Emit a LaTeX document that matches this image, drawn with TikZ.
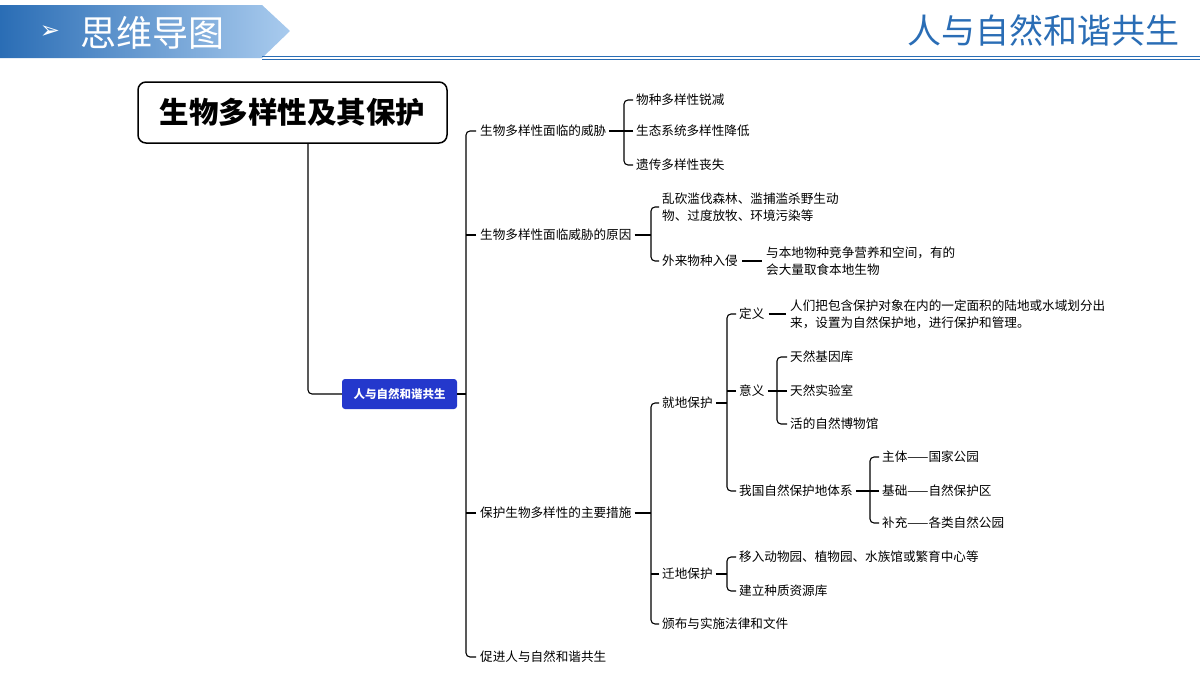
\documentclass[tikz,border=0pt]{standalone}
\usepackage{fontspec}
\setmainfont{Noto Sans CJK SC}
\newfontfamily\dejavu{DejaVu Sans}
\usetikzlibrary{shadings}
\definecolor{hdblue}{HTML}{2A6DB5}
\definecolor{hdlight}{HTML}{A9CBEE}
\definecolor{rootblue}{HTML}{2438CC}
\begin{document}
\begin{tikzpicture}[x=1pt,y=-1pt,
  t/.style={anchor=west,inner sep=0pt,font=\fontsize{12.6}{17}\selectfont,align=left},
  br/.style={line width=1.1pt,rounded corners=4pt},
  ln/.style={line width=1.1pt}]
\useasboundingbox (0,0) rectangle (1200,675);
% header
\shade[left color=hdblue, right color=hdlight] (0,5) -- (262,5) -- (290,31) -- (262,58) -- (0,58) -- cycle;
\draw[color=hdblue,line width=1pt] (262,56) -- (1200,56);
\draw[color=hdblue,line width=0.5pt] (262,59) -- (1200,59);
\node[text=white,font=\dejavu\fontsize{24}{24}\selectfont] (hdarrow) at (50,32) {➢};
\node[text=white,anchor=west,inner sep=0pt,font=\fontsize{36}{38}\selectfont] (hd) at (80,33) {思维导图};
\node[text=hdblue,anchor=east,inner sep=0pt,font=\fontsize{34}{36}\selectfont] (hr) at (1180,30) {人与自然和谐共生};
% title
\node[draw,line width=1.5pt,rounded corners=8pt,minimum width=309,minimum height=61,font=\fontsize{29.5}{31}\selectfont\bfseries] (title) at (292.5,112.5) {生物多样性及其保护};
\node[fill=rootblue,text=white,rounded corners=3pt,minimum width=115,minimum height=30,font=\fontsize{11.5}{12}\selectfont\bfseries] (root) at (399.5,394) {人与自然和谐共生};
\draw[br] (308,143.5) coordinate (ta) |- (root.west);
% level 1
\node[t] (a) at (480,131) {生物多样性面临的威胁};
\node[t] (b) at (480,235) {生物多样性面临威胁的原因};
\node[t] (c) at (480,513) {保护生物多样性的主要措施};
\node[t] (d) at (480,657) {促进人与自然和谐共生};
\draw[ln] (root.east) -- (466,394);
\draw[br] ([xshift=-4]a.west) -- (466,131) |- ([xshift=-4]d.west);
\draw[ln] ([xshift=-4]b.west) -- (466,235);
\draw[ln] ([xshift=-4]c.west) -- (466,513);
% a
\node[t] (a1) at (636,100) {物种多样性锐减};
\node[t] (a2) at (636,131) {生态系统多样性降低};
\node[t] (a3) at (636,165) {遗传多样性丧失};
\draw[ln] ([xshift=3]a.east) -- (624,131);
\draw[br] ([xshift=-3]a1.west) -- (624,100) |- ([xshift=-3]a3.west);
\draw[ln] ([xshift=-3]a2.west) -- (624,131);
% b
\node[t] (b1) at (662,207) {乱砍滥伐森林、滥捕滥杀野生动\\物、过度放牧、环境污染等};
\node[t] (b2) at (662,261) {外来物种入侵};
\node[t] (b2a) at (766,261) {与本地物种竞争营养和空间，有的\\会大量取食本地生物};
\draw[ln] ([xshift=3]b.east) -- (651,235);
\draw[br] ([xshift=-3]b1.west) -- (651,207) |- ([xshift=-3]b2.west);
\draw[ln] ([xshift=4]b2.east) -- ([xshift=-4]b2a.west);
% c
\node[t] (c1) at (662,403) {就地保护};
\node[t] (c2) at (662,574) {迁地保护};
\node[t] (c3) at (662,624) {颁布与实施法律和文件};
\draw[ln] ([xshift=3]c.east) -- (651,513);
\draw[br] ([xshift=-3]c1.west) -- (651,403) |- ([xshift=-3]c3.west);
\draw[ln] ([xshift=-3]c2.west) -- (651,574);
% c1
\node[t] (d1) at (739,314) {定义};
\node[t] (d1a) at (790,314) {人们把包含保护对象在内的一定面积的陆地或水域划分出\\来，设置为自然保护地，进行保护和管理。};
\node[t] (d2) at (739,391) {意义};
\node[t] (d3) at (739,491) {我国自然保护地体系};
\draw[ln] ([xshift=3]c1.east) -- (727,403);
\draw[br] ([xshift=-3]d1.west) -- (727,314) |- ([xshift=-3]d3.west);
\draw[ln] ([xshift=-3]d2.west) -- (727,391);
\draw[ln] ([xshift=4]d1.east) -- ([xshift=-4]d1a.west);
% d2
\node[t] (e1) at (790,357) {天然基因库};
\node[t] (e2) at (790,391) {天然实验室};
\node[t] (e3) at (790,424) {活的自然博物馆};
\draw[ln] ([xshift=3]d2.east) -- (777,391);
\draw[br] ([xshift=-3]e1.west) -- (777,357) |- ([xshift=-3]e3.west);
\draw[ln] ([xshift=-3]e2.west) -- (777,391);
% d3
\node[t] (f1) at (882,457) {主体——国家公园};
\node[t] (f2) at (882,491) {基础——自然保护区};
\node[t] (f3) at (882,523) {补充——各类自然公园};
\draw[ln] ([xshift=3]d3.east) -- (870,491);
\draw[br] ([xshift=-3]f1.west) -- (870,457) |- ([xshift=-3]f3.west);
\draw[ln] ([xshift=-3]f2.west) -- (870,491);
% c2
\node[t] (g1) at (739,557) {移入动物园、植物园、水族馆或繁育中心等};
\node[t] (g2) at (739,591) {建立种质资源库};
\draw[ln] ([xshift=3]c2.east) -- (727,574);
\draw[br] ([xshift=-3]g1.west) -- (727,557) |- ([xshift=-3]g2.west);
\end{tikzpicture}
\end{document}
